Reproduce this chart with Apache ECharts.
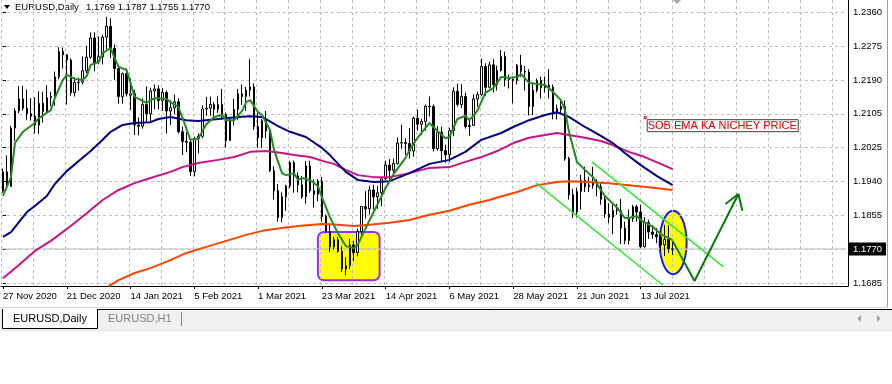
<!DOCTYPE html>
<html><head><meta charset="utf-8">
<script src="https://cdn.jsdelivr.net/npm/echarts@6/dist/echarts.min.js"></script>
<style>html,body{margin:0;padding:0;background:#fff}#c{width:892px;height:384px}</style>
</head><body><div id="c"></div>
<script>
// ---------- data ----------
const dates = ['27 Nov 2020','30 Nov 2020','1 Dec 2020','2 Dec 2020','3 Dec 2020','4 Dec 2020','7 Dec 2020','8 Dec 2020','9 Dec 2020','10 Dec 2020','11 Dec 2020','14 Dec 2020','15 Dec 2020','16 Dec 2020','17 Dec 2020','18 Dec 2020','21 Dec 2020','22 Dec 2020','23 Dec 2020','24 Dec 2020','28 Dec 2020','29 Dec 2020','30 Dec 2020','31 Dec 2020',
'4 Jan 2021','5 Jan 2021','6 Jan 2021','7 Jan 2021','8 Jan 2021','11 Jan 2021','12 Jan 2021','13 Jan 2021','14 Jan 2021','15 Jan 2021','18 Jan 2021','19 Jan 2021','20 Jan 2021','21 Jan 2021','22 Jan 2021','25 Jan 2021','26 Jan 2021','27 Jan 2021','28 Jan 2021','29 Jan 2021',
'1 Feb 2021','2 Feb 2021','3 Feb 2021','4 Feb 2021','5 Feb 2021','8 Feb 2021','9 Feb 2021','10 Feb 2021','11 Feb 2021','12 Feb 2021','15 Feb 2021','16 Feb 2021','17 Feb 2021','18 Feb 2021','19 Feb 2021','22 Feb 2021','23 Feb 2021','24 Feb 2021','25 Feb 2021','26 Feb 2021',
'1 Mar 2021','2 Mar 2021','3 Mar 2021','4 Mar 2021','5 Mar 2021','8 Mar 2021','9 Mar 2021','10 Mar 2021','11 Mar 2021','12 Mar 2021','15 Mar 2021','16 Mar 2021','17 Mar 2021','18 Mar 2021','19 Mar 2021','22 Mar 2021','23 Mar 2021','24 Mar 2021','25 Mar 2021','26 Mar 2021','29 Mar 2021','30 Mar 2021','31 Mar 2021',
'1 Apr 2021','2 Apr 2021','5 Apr 2021','6 Apr 2021','7 Apr 2021','8 Apr 2021','9 Apr 2021','12 Apr 2021','13 Apr 2021','14 Apr 2021','15 Apr 2021','16 Apr 2021','19 Apr 2021','20 Apr 2021','21 Apr 2021','22 Apr 2021','23 Apr 2021','26 Apr 2021','27 Apr 2021','28 Apr 2021','29 Apr 2021','30 Apr 2021',
'3 May 2021','4 May 2021','5 May 2021','6 May 2021','7 May 2021','10 May 2021','11 May 2021','12 May 2021','13 May 2021','14 May 2021','17 May 2021','18 May 2021','19 May 2021','20 May 2021','21 May 2021','24 May 2021','25 May 2021','26 May 2021','27 May 2021','28 May 2021','31 May 2021',
'1 Jun 2021','2 Jun 2021','3 Jun 2021','4 Jun 2021','7 Jun 2021','8 Jun 2021','9 Jun 2021','10 Jun 2021','11 Jun 2021','14 Jun 2021','15 Jun 2021','16 Jun 2021','17 Jun 2021','18 Jun 2021','21 Jun 2021','22 Jun 2021','23 Jun 2021','24 Jun 2021','25 Jun 2021','28 Jun 2021','29 Jun 2021','30 Jun 2021',
'1 Jul 2021','2 Jul 2021','5 Jul 2021','6 Jul 2021','7 Jul 2021','8 Jul 2021','9 Jul 2021','12 Jul 2021','13 Jul 2021','14 Jul 2021','15 Jul 2021','16 Jul 2021','19 Jul 2021','20 Jul 2021','21 Jul 2021','22 Jul 2021','23 Jul 2021'];

// [open, close, low, high]
const candles = [
[1.1914,1.1962,1.1910,1.1970],[1.1962,1.1926,1.1922,1.2003],[1.1926,1.2071,1.1925,1.2077],[1.2071,1.2114,1.2039,1.2121],[1.2114,1.2144,1.2108,1.2176],[1.2144,1.2121,1.2115,1.2177],[1.2121,1.2107,1.2092,1.2167],[1.2107,1.2101,1.2090,1.2146],[1.2101,1.2079,1.2058,1.2148],[1.2079,1.2133,1.2057,1.2163],[1.2133,1.2113,1.2085,1.2162],[1.2113,1.2147,1.2110,1.2178],[1.2147,1.2150,1.2126,1.2162],[1.2150,1.2199,1.2127,1.2212],[1.2199,1.2262,1.2193,1.2273],[1.2262,1.2254,1.2220,1.2272],[1.2254,1.2241,1.2130,1.2255],[1.2241,1.2160,1.2152,1.2245],[1.2160,1.2185,1.2150,1.2198],[1.2185,1.2186,1.2165,1.2197],[1.2186,1.2214,1.2180,1.2250],[1.2214,1.2248,1.2208,1.2276],[1.2248,1.2296,1.2244,1.2310],[1.2296,1.2232,1.2213,1.2310],
[1.2236,1.2249,1.2230,1.2300],[1.2249,1.2298,1.2230,1.2304],[1.2298,1.2325,1.2267,1.2349],[1.2325,1.2270,1.2246,1.2345],[1.2270,1.2220,1.2192,1.2280],[1.2220,1.2150,1.2132,1.2227],[1.2150,1.2207,1.2132,1.2210],[1.2207,1.2157,1.2150,1.2220],[1.2153,1.2157,1.2117,1.2195],[1.2157,1.2079,1.2054,1.2167],[1.2079,1.2076,1.2053,1.2098],[1.2076,1.2130,1.2070,1.2145],[1.2130,1.2107,1.2085,1.2175],[1.2107,1.2164,1.2086,1.2172],[1.2164,1.2169,1.2118,1.2180],[1.2169,1.2140,1.2118,1.2178],[1.2140,1.2160,1.2114,1.2171],[1.2160,1.2114,1.2058,1.2165],[1.2114,1.2122,1.2079,1.2140],[1.2122,1.2137,1.2106,1.2155],
[1.2137,1.2062,1.2058,1.2146],[1.2062,1.2038,1.2004,1.2075],[1.2038,1.2036,1.2011,1.2061],[1.2036,1.1963,1.1952,1.2043],[1.1963,1.2045,1.1951,1.2050],[1.2045,1.2051,1.2008,1.2058],[1.2051,1.2119,1.2046,1.2128],[1.2119,1.2121,1.2102,1.2149],[1.2121,1.2130,1.2102,1.2150],[1.2130,1.2118,1.2095,1.2136],[1.2118,1.2130,1.2109,1.2150],[1.2130,1.2105,1.2092,1.2169],[1.2105,1.2040,1.2023,1.2110],[1.2040,1.2091,1.2040,1.2094],[1.2091,1.2118,1.2078,1.2144],[1.2118,1.2157,1.2092,1.2169],[1.2157,1.2150,1.2129,1.2180],[1.2150,1.2166,1.2114,1.2174],[1.2166,1.2174,1.2150,1.2243],[1.2174,1.2075,1.2067,1.2183],
[1.2075,1.2047,1.2022,1.2113],[1.2047,1.2090,1.2022,1.2094],[1.2090,1.2064,1.2046,1.2114],[1.2064,1.1965,1.1962,1.2072],[1.1965,1.1915,1.1893,1.1976],[1.1915,1.1848,1.1838,1.1932],[1.1848,1.1900,1.1836,1.1911],[1.1900,1.1927,1.1865,1.1930],[1.1927,1.1985,1.1921,1.1990],[1.1985,1.1952,1.1910,1.1990],[1.1952,1.1930,1.1911,1.1961],[1.1930,1.1900,1.1895,1.1952],[1.1900,1.1977,1.1883,1.1989],[1.1977,1.1915,1.1910,1.1990],[1.1915,1.1906,1.1873,1.1943],[1.1906,1.1939,1.1889,1.1944],[1.1939,1.1851,1.1838,1.1949],[1.1851,1.1813,1.1809,1.1856],[1.1813,1.1775,1.1762,1.1835],[1.1775,1.1793,1.1769,1.1800],[1.1793,1.1764,1.1760,1.1800],[1.1764,1.1720,1.1712,1.1777],[1.1720,1.1728,1.1704,1.1749],
[1.1728,1.1780,1.1720,1.1795],[1.1780,1.1761,1.1740,1.1790],[1.1761,1.1813,1.1752,1.1820],[1.1813,1.1876,1.1800,1.1877],[1.1876,1.1870,1.1846,1.1914],[1.1870,1.1917,1.1856,1.1927],[1.1917,1.1900,1.1868,1.1930],[1.1900,1.1910,1.1870,1.1927],[1.1910,1.1945,1.1876,1.1948],[1.1945,1.1979,1.1942,1.1990],[1.1979,1.1966,1.1940,1.1994],[1.1966,1.1983,1.1950,1.1995],[1.1983,1.2034,1.1980,1.2048],[1.2034,1.2035,1.2020,1.2080],[1.2035,1.2033,1.2004,1.2046],[1.2033,1.2014,1.1995,1.2071],[1.2014,1.2096,1.2000,1.2100],[1.2096,1.2081,1.2065,1.2117],[1.2081,1.2088,1.2054,1.2094],[1.2088,1.2126,1.2065,1.2130],[1.2126,1.2125,1.2100,1.2150],[1.2125,1.2020,1.2013,1.2130],
[1.2020,1.2061,1.2015,1.2076],[1.2061,1.2015,1.1986,1.2075],[1.2015,1.2005,1.1985,1.2030],[1.2005,1.2065,1.1986,1.2072],[1.2065,1.2163,1.2051,1.2173],[1.2163,1.2130,1.2125,1.2182],[1.2130,1.2150,1.2121,1.2181],[1.2150,1.2075,1.2070,1.2160],[1.2075,1.2078,1.2052,1.2095],[1.2078,1.2144,1.2077,1.2155],[1.2144,1.2155,1.2125,1.2162],[1.2155,1.2225,1.2151,1.2245],[1.2225,1.2173,1.2152,1.2233],[1.2173,1.2229,1.2170,1.2237],[1.2229,1.2180,1.2160,1.2243],[1.2180,1.2215,1.2165,1.2227],[1.2215,1.2250,1.2212,1.2266],[1.2250,1.2192,1.2175,1.2262],[1.2192,1.2193,1.2170,1.2205],[1.2193,1.2190,1.2133,1.2200],[1.2190,1.2228,1.2180,1.2231],
[1.2228,1.2213,1.2199,1.2254],[1.2213,1.2211,1.2165,1.2226],[1.2211,1.2125,1.2103,1.2218],[1.2125,1.2166,1.2104,1.2185],[1.2166,1.2190,1.2160,1.2195],[1.2190,1.2172,1.2145,1.2200],[1.2172,1.2178,1.2160,1.2200],[1.2178,1.2173,1.2145,1.2218],[1.2173,1.2108,1.2093,1.2180],[1.2108,1.2120,1.2093,1.2130],[1.2125,1.2118,1.2108,1.2140],[1.2125,1.1995,1.1990,1.2140],[1.1995,1.1905,1.1893,1.2000],[1.1905,1.1862,1.1847,1.1920],[1.1862,1.1913,1.1849,1.1922],[1.1913,1.1941,1.1868,1.1955],[1.1941,1.1925,1.1912,1.1975],[1.1925,1.1929,1.1912,1.1950],[1.1929,1.1936,1.1920,1.1975],[1.1936,1.1925,1.1901,1.1944],[1.1925,1.1894,1.1880,1.1935],[1.1894,1.1857,1.1847,1.1905],
[1.1857,1.1849,1.1834,1.1884],[1.1849,1.1866,1.1807,1.1880],[1.1866,1.1865,1.1855,1.1882],[1.1865,1.1822,1.1782,1.1895],[1.1822,1.1791,1.1782,1.1838],[1.1791,1.1845,1.1781,1.1868],[1.1845,1.1875,1.1837,1.1880],[1.1875,1.1862,1.1838,1.1880],[1.1862,1.1776,1.1772,1.1880],[1.1776,1.1836,1.1773,1.1849],[1.1836,1.1812,1.1795,1.1843],[1.1812,1.1806,1.1795,1.1829],[1.1806,1.1800,1.1784,1.1822],[1.1800,1.1780,1.1764,1.1815],[1.1780,1.1794,1.1752,1.1830],[1.1794,1.1771,1.1760,1.1829],[1.1769,1.1770,1.1755,1.1787]];

// moving averages: [bar index, price]
const emaFast = [[0,1.1902],[2,1.1949],[3,1.2034],[5,1.2062],[8,1.2084],[9,1.2096],[12,1.2116],[13,1.2146],[15,1.2191],[16,1.2204],[18,1.2194],[20,1.2191],[21,1.2201],[22,1.2229],[24,1.2236],[25,1.2258],[27,1.2271],[28,1.2246],[29,1.2224],[31,1.2216],[32,1.2184],[33,1.2149],[36,1.2134],[38,1.2146],[41,1.2144],[42,1.2136],[44,1.2124],[46,1.2071],[47,1.2042],[49,1.2045],[51,1.2081],[53,1.2099],[55,1.2104],[56,1.2091],[58,1.2091],[60,1.2114],[61,1.2136],[62,1.2141],[64,1.2111],[65,1.2104],[67,1.2066],[68,1.2017],[70,1.1959],[71,1.1954],[73,1.1959],[74,1.1942],[75,1.1947],[77,1.1942],[79,1.1927],[80,1.1899],[82,1.1850],[84,1.1810],[86,1.1777],[88,1.1772],[89,1.1780],[91,1.1822],[93,1.1862],[96,1.1922],[98,1.1957],[101,1.1997],[102,1.2017],[104,1.2047],[107,1.2084],[109,1.2064],[111,1.2046],[112,1.2049],[114,1.2094],[116,1.2102],[117,1.2091],[119,1.2114],[121,1.2159],[123,1.2171],[125,1.2199],[127,1.2196],[129,1.2199],[130,1.2206],[132,1.2184],[134,1.2181],[136,1.2179],[138,1.2161],[140,1.2141],[141,1.2116],[142,1.2062],[144,1.1987],[146,1.1967],[148,1.1949],[150,1.1917],[151,1.1902],[154,1.1874],[156,1.1847],[157,1.1847],[159,1.1852],[160,1.1842],[163,1.1825],[165,1.1807],[168,1.1792]];
const emaMid = [[0,1.1800],[2,1.1812],[6,1.1862],[8,1.1877],[11,1.1902],[13,1.1932],[16,1.1964],[19,1.1989],[22,1.2014],[25,1.2042],[27,1.2062],[30,1.2079],[33,1.2084],[37,1.2086],[39,1.2094],[42,1.2099],[46,1.2091],[49,1.2089],[54,1.2094],[59,1.2099],[62,1.2101],[65,1.2099],[69,1.2076],[72,1.2062],[76,1.2049],[80,1.2022],[82,1.2004],[86,1.1962],[89,1.1942],[93,1.1937],[97,1.1939],[102,1.1959],[107,1.1982],[112,1.1992],[116,1.2012],[120,1.2042],[125,1.2059],[128,1.2074],[132,1.2091],[136,1.2104],[139,1.2111],[142,1.2099],[146,1.2074],[150,1.2052],[153,1.2034],[156,1.2009],[160,1.1979],[164,1.1952],[168,1.1929]];
const emaSlow = [[0,1.1697],[4,1.1730],[8,1.1765],[12,1.1790],[17,1.1827],[21,1.1859],[25,1.1892],[29,1.1917],[33,1.1934],[37,1.1947],[42,1.1962],[45,1.1974],[49,1.1984],[54,1.1992],[58,1.1999],[62,1.2012],[66,1.2014],[70,1.2009],[73,1.2004],[77,1.1999],[81,1.1987],[83,1.1982],[86,1.1967],[89,1.1954],[93,1.1949],[97,1.1949],[102,1.1959],[107,1.1972],[112,1.1974],[116,1.1987],[120,1.1999],[124,1.2014],[128,1.2034],[132,1.2047],[136,1.2054],[139,1.2059],[142,1.2054],[146,1.2047],[150,1.2039],[153,1.2029],[157,1.2012],[161,1.1999],[165,1.1982],[168,1.1969]];
const emaLong = [[26.5,1.1677],[29,1.1692],[33,1.1710],[37,1.1722],[42,1.1742],[46,1.1760],[51,1.1775],[56,1.1790],[61,1.1805],[65,1.1815],[70,1.1822],[74,1.1827],[80,1.1832],[83,1.1831],[88,1.1827],[92,1.1830],[97,1.1835],[102,1.1842],[107,1.1855],[112,1.1865],[117,1.1880],[122,1.1892],[124,1.1898],[129,1.1912],[134,1.1929],[139,1.1937],[142,1.1939],[147,1.1937],[152,1.1934],[157,1.1929],[162,1.1924],[168,1.1917]];

// hand drawn objects, in [bar index, price]
const channelLower = [[133.75,1.1934],[165.5,1.1680]];
const channelUpper = [[147.75,1.1987],[180.75,1.1725]];
const arrowPath = [[168,1.1790],[173.5,1.1690],[184.5,1.1907]];
const arrowHead = [[181.25,1.1882],[184.5,1.1907],[185.5,1.1865]];
const boxZone = [[79, 94.5, 1.1692, 1.1812]];          // x1, x2, lowPrice, highPrice
const ellipseZone = [[164.75, 171.5, 1.1707, 1.1865]];  // x1, x2, lowPrice, highPrice
const noteAnchor = [[161.25, 1.2096]];
const noteText = 'SOB EMA KA NICHEY PRICE';

const priceTickLabels = ['1.1685','1.1770','1.1855','1.1940','1.2025','1.2105','1.2190','1.2275','1.2360'];
const symbolName = 'EURUSD,Daily';

// ---------- chart ----------
const FUTURE = 43;
const categories = dates.concat(Array.from({length: FUTURE}, (_, i) => 'f' + i));
const NCAT = categories.length;
const yMin = 1.1685, yMax = 1.2360, yStep = (yMax - yMin) / 8;
const last = candles[candles.length - 1];
const bid = last[1];
const FONT = '"Liberation Sans", Arial, sans-serif';
const showDate = idx => idx % 16 === 0 && idx < dates.length;

const chart = echarts.init(document.getElementById('c'), null, {renderer: 'canvas'});

function lineSeries(data, color, width, z) {
  return {type: 'line', xAxisIndex: 1, yAxisIndex: 0, data: data, showSymbol: false, symbol: 'none',
    clip: false, silent: true, z: z || 3, lineStyle: {color: color, width: width}};
}

chart.setOption({
  animation: false,
  backgroundColor: '#ffffff',
  grid: [
    {left: -2, top: 12.3, width: 848, height: 270.7},
    {left: 1, top: 0, width: 847, height: 286}
  ],
  xAxis: [
    {type: 'category', gridIndex: 0, data: categories, boundaryGap: true, offset: 3,
      axisLine: {show: false},
      axisTick: {show: true, alignWithLabel: true, interval: showDate, length: 3, lineStyle: {color: '#000'}},
      axisLabel: {show: true, interval: showDate, align: 'left', margin: 5, fontSize: 9.5, fontFamily: FONT, color: '#000',
        formatter: v => v},
      splitLine: {show: false}},
    {type: 'value', gridIndex: 0, min: -0.5, max: NCAT - 0.5, show: false},
    {type: 'value', gridIndex: 1, min: 0, max: NCAT, interval: 8,
      axisLine: {show: true, lineStyle: {color: '#000', width: 1}},
      axisTick: {show: false}, axisLabel: {show: false},
      splitLine: {show: true, lineStyle: {color: '#c0c0c0', type: [3, 3], width: 1}}}
  ],
  yAxis: [
    {type: 'value', gridIndex: 0, position: 'right', min: yMin, max: yMax, interval: yStep,
      axisLine: {show: false},
      axisTick: {show: true, length: 3, lineStyle: {color: '#000'}},
      axisLabel: {margin: 7, fontSize: 9.5, fontFamily: FONT, color: '#000',
        formatter: v => priceTickLabels[Math.round((v - yMin) / yStep)] || ''},
      splitLine: {show: true, lineStyle: {color: '#c0c0c0', type: [3, 3], width: 1}}},
    {type: 'value', gridIndex: 1, position: 'right', min: 0, max: 1,
      axisLine: {show: true, onZero: false, lineStyle: {color: '#000', width: 1}},
      axisTick: {show: false}, axisLabel: {show: false}, splitLine: {show: false}}
  ],
  series: [
    {type: 'custom', xAxisIndex: 1, yAxisIndex: 0, data: boxZone, z: -1, silent: true,
      renderItem: (p, api) => {
        const a = api.coord([api.value(0), api.value(3)]);
        const b = api.coord([api.value(1), api.value(2)]);
        return {type: 'rect', shape: {x: a[0], y: a[1], width: b[0] - a[0], height: b[1] - a[1], r: 6},
          style: {fill: '#ffff00', stroke: '#9a2bff', lineWidth: 2}};
      }},
    {type: 'custom', xAxisIndex: 1, yAxisIndex: 0, data: ellipseZone, z: -1, silent: true,
      renderItem: (p, api) => {
        const a = api.coord([api.value(0), api.value(3)]);
        const b = api.coord([api.value(1), api.value(2)]);
        const cx = (a[0] + b[0]) / 2, cy = (a[1] + b[1]) / 2, rx = (b[0] - a[0]) / 2, ry = (b[1] - a[1]) / 2;
        const pts = [];
        for (let k = 0; k < 72; k++) { const t = k / 72 * Math.PI * 2; pts.push([cx + rx * Math.cos(t), cy + ry * Math.sin(t)]); }
        return {type: 'polygon', shape: {points: pts}, style: {fill: '#ffff00', stroke: '#1a1aff', lineWidth: 2}};
      }},
    // bid line with current price label
    {type: 'line', xAxisIndex: 1, yAxisIndex: 0, data: [[-0.5, bid], [NCAT - 0.5, bid]], showSymbol: false, symbol: 'none',
      silent: true, z: 1, lineStyle: {color: '#c0c0c0', width: 1},
      endLabel: {show: true, distance: 3, formatter: () => bid.toFixed(4), color: '#ffffff', backgroundColor: '#000000',
        padding: [2, 4, 1, 4], fontSize: 9.5, fontFamily: FONT}},
    {type: 'candlestick', xAxisIndex: 0, yAxisIndex: 0, data: candles, barWidth: 2, silent: true, z: 2,
      itemStyle: {color: '#ffffff', color0: '#000000', borderColor: '#000000', borderColor0: '#000000', borderWidth: 1}},
    lineSeries(emaLong, '#ff4500', 2),
    lineSeries(emaSlow, '#c71585', 2),
    lineSeries(emaMid, '#000080', 2),
    lineSeries(emaFast, '#228b22', 2),
    lineSeries(channelLower, '#33e833', 1.5, 4),
    lineSeries(channelUpper, '#33e833', 1.5, 4),
    lineSeries(arrowPath, '#0a7a0a', 2, 4),
    lineSeries(arrowHead, '#0a7a0a', 2, 4),
    {type: 'custom', xAxisIndex: 1, yAxisIndex: 0, data: noteAnchor, z: 6, silent: true,
      renderItem: (p, api) => {
        const a = api.coord([api.value(0), api.value(1)]);
        return {type: 'group', children: [
          {type: 'rect', shape: {x: a[0] - 1.5, y: a[1] - 1.5, width: 2, height: 2}, style: {fill: 'none', stroke: '#d00000', lineWidth: 1}},
          {type: 'rect', shape: {x: a[0] + 1.5, y: a[1] + 1.5, width: 151, height: 12}, style: {fill: 'none', stroke: '#404040', lineWidth: 1}},
          {type: 'text', x: a[0] + 2, y: a[1] + 8, style: {text: noteText, fill: '#e00000', font: '11px ' + FONT, textVerticalAlign: 'middle', textAlign: 'left'}}
        ]};
      }}
  ],
  graphic: [
    {type: 'polygon', shape: {points: [[4, 5], [10, 5], [7, 9]]}, style: {fill: '#000'}},
    {type: 'text', x: 15, y: 7, style: {text: symbolName, fill: '#000', font: '9.5px ' + FONT, textVerticalAlign: 'middle'}},
    {type: 'text', x: 86, y: 7, style: {text: [last[0], last[3], last[2], last[1]].map(v => v.toFixed(4)).join(' '), fill: '#000', font: '9.5px ' + FONT, textVerticalAlign: 'middle'}},
    {type: 'polygon', shape: {points: [[673, 0], [681, 0], [677, 4]]}, style: {fill: '#a8a8a8'}},
    {type: 'line', shape: {x1: 887.5, y1: 0, x2: 887.5, y2: 308}, style: {stroke: '#a0a0a0', lineWidth: 1}},
    {type: 'line', shape: {x1: 0, y1: 307.5, x2: 888, y2: 307.5}, style: {stroke: '#d8d8d8', lineWidth: 1}},
    {type: 'rect', shape: {x: 0, y: 309, width: 892, height: 21}, style: {fill: '#f0f0f0'}},
    {type: 'line', shape: {x1: 97, y1: 309.5, x2: 892, y2: 309.5}, style: {stroke: '#000', lineWidth: 1}},
    {type: 'rect', shape: {x: 2.5, y: 309, width: 95, height: 19}, style: {fill: '#ffffff'}},
    {type: 'polyline', shape: {points: [[2.5, 309], [2.5, 328.5], [97.5, 328.5], [97.5, 309]]}, style: {stroke: '#000', lineWidth: 1, fill: 'none'}},
    {type: 'text', x: 13, y: 319, style: {text: symbolName, fill: '#000', font: '11px ' + FONT, textVerticalAlign: 'middle'}},
    {type: 'text', x: 108, y: 319, style: {text: 'EURUSD,H1', fill: '#808080', font: '11px ' + FONT, textVerticalAlign: 'middle'}},
    {type: 'line', shape: {x1: 181.5, y1: 312, x2: 181.5, y2: 326}, style: {stroke: '#808080', lineWidth: 1}},
    {type: 'polygon', shape: {points: [[861, 315], [861, 322], [857.5, 318.5]]}, style: {fill: '#a0a0a0'}},
    {type: 'polygon', shape: {points: [[877, 315], [877, 322], [880.5, 318.5]]}, style: {fill: '#a0a0a0'}},
    {type: 'line', shape: {x1: 0, y1: 330.5, x2: 892, y2: 330.5}, style: {stroke: '#e6e6e6', lineWidth: 1}}
  ]
});
</script></body></html>
